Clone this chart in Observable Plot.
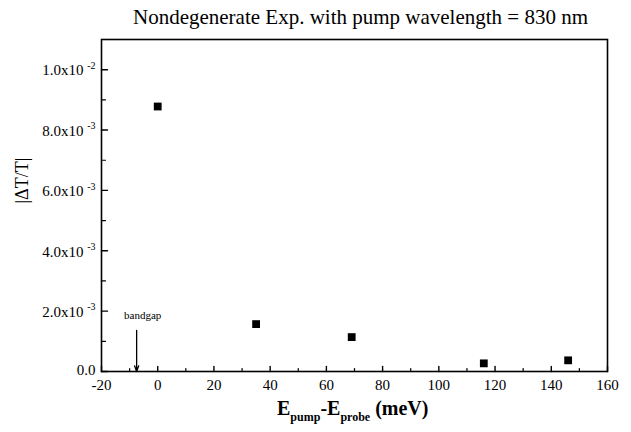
<!DOCTYPE html>
<html>
<head>
<meta charset="utf-8">
<script src="https://cdn.jsdelivr.net/npm/d3@7"></script>
<script src="https://cdn.jsdelivr.net/npm/@observablehq/plot@0.6"></script>
<style>
  body { margin: 0; background: #fff; }
  svg { font-family: "Liberation Serif", "Times New Roman", serif; }
</style>
</head>
<body>
<div id="chart"></div>
<script>
// Data
const energyDiff = [0, 35, 69, 116, 146];           // E_pump - E_probe (meV)
const deltaT = [8.78e-3, 1.57e-3, 1.14e-3, 0.27e-3, 0.37e-3]; // |ΔT/T|

const xMajorTicks = [-20, 0, 20, 40, 60, 80, 100, 120, 140, 160];
const xMinorTicks = [-10, 10, 30, 50, 70, 90, 110, 130, 150];
const yMajorTicks = [0, 2e-3, 4e-3, 6e-3, 8e-3, 1e-2];
const yMinorTicks = [1e-3, 3e-3, 5e-3, 7e-3, 9e-3];
const yTickMantissa = ["0.0", "2.0x10", "4.0x10", "6.0x10", "8.0x10", "1.0x10"];
const yTickExponent = ["", "-3", "-3", "-3", "-3", "-2"];

const annotation = [{label: "bandgap", x: -7.5, yText: 1.75e-3, yTop: 1.36e-3, yTip: 0}];

const title = "Nondegenerate Exp. with pump wavelength = 830 nm";

const points = energyDiff.map((e, i) => ({e, v: deltaT[i]}));
const yTicks = yMajorTicks.map((v, i) => ({v, m: yTickMantissa[i], ex: yTickExponent[i]}));
const yTicksExp = yTicks.filter(d => d.ex !== "");
const yTicksPlain = yTicks.filter(d => d.ex === "");

const FONT = "'Liberation Serif', 'Times New Roman', serif";
const tickShape = {draw(context, l) { context.moveTo(0, 0); context.lineTo(0, -l); }};

const plot = Plot.plot({
  width: 631,
  height: 432,
  marginLeft: 101,
  marginRight: 24,
  marginTop: 39,
  marginBottom: 61,
  style: {fontFamily: FONT, background: "#fff", color: "#000"},
  x: {domain: [-20, 160], axis: null},
  y: {domain: [0, 0.011], axis: null},
  marks: [
    Plot.frame({stroke: "#000", strokeWidth: 1.6}),
    // x ticks (inward)
    Plot.vector(xMajorTicks, {x: d => d, y: 0, length: 5, rotate: 0, anchor: "start", shape: tickShape, stroke: "#000", strokeWidth: 1.4}),
    Plot.vector(xMinorTicks, {x: d => d, y: 0, length: 3, rotate: 0, anchor: "start", shape: tickShape, stroke: "#000", strokeWidth: 1.2}),
    // y ticks (inward)
    Plot.vector(yMajorTicks, {x: -20, y: d => d, length: 6, rotate: 90, anchor: "start", shape: tickShape, stroke: "#000", strokeWidth: 1.4}),
    Plot.vector(yMinorTicks, {x: -20, y: d => d, length: 4, rotate: 90, anchor: "start", shape: tickShape, stroke: "#000", strokeWidth: 1.2}),
    // x tick labels
    Plot.text(xMajorTicks, {x: d => d, y: 0, text: d => String(d), dy: 14, fontSize: 15, fontFamily: FONT, lineAnchor: "middle"}),
    // y tick labels
    Plot.text(yTicksExp, {x: -20, y: "v", text: "ex", textAnchor: "end", dx: -6, dy: -4, fontSize: 10, fontFamily: FONT}),
    Plot.text(yTicksExp, {x: -20, y: "v", text: "m", textAnchor: "end", dx: -18, dy: 1, fontSize: 15, fontFamily: FONT, lineAnchor: "middle"}),
    Plot.text(yTicksPlain, {x: -20, y: "v", text: "m", textAnchor: "end", dx: -6, dy: -1, fontSize: 15, fontFamily: FONT, lineAnchor: "middle"}),
    // data
    Plot.dot(points, {x: "e", y: "v", symbol: "square", r: 4.4, fill: "#000", stroke: "none"}),
    // bandgap annotation
    Plot.arrow(annotation, {x1: "x", x2: "x", y1: "yTop", y2: "yTip", stroke: "#000", strokeWidth: 1.3, headLength: 7, headAngle: 40}),
    Plot.text(annotation, {x: "x", y: "yText", text: "label", dx: 6, fontSize: 11, fontFamily: FONT, lineAnchor: "bottom"}),
    // title
    Plot.text([title], {frameAnchor: "top", text: d => d, dx: 6, dy: -16, fontSize: 21, fontFamily: FONT, lineAnchor: "bottom"}),
    // y label
    Plot.text(["|ΔT/T|"], {frameAnchor: "left", text: d => d, dx: -79, dy: -2, rotate: -90, fontSize: 18, fontFamily: FONT})
  ]
});

document.getElementById("chart").appendChild(plot);

const svg = d3.select(plot);
// x-axis label with subscripts
const xl = svg.append("text")
  .attr("x", 277).attr("y", 415)
  .attr("text-anchor", "start")
  .attr("font-size", 20).attr("font-weight", "bold")
  .attr("font-family", FONT);
xl.append("tspan").text("E");
xl.append("tspan").attr("font-size", 12).attr("dy", 6).text("pump");
xl.append("tspan").attr("dy", -6).text("-E");
xl.append("tspan").attr("font-size", 12).attr("dy", 6).text("probe");
xl.append("tspan").attr("dy", -6).text(" (meV)");
</script>
</body>
</html>
